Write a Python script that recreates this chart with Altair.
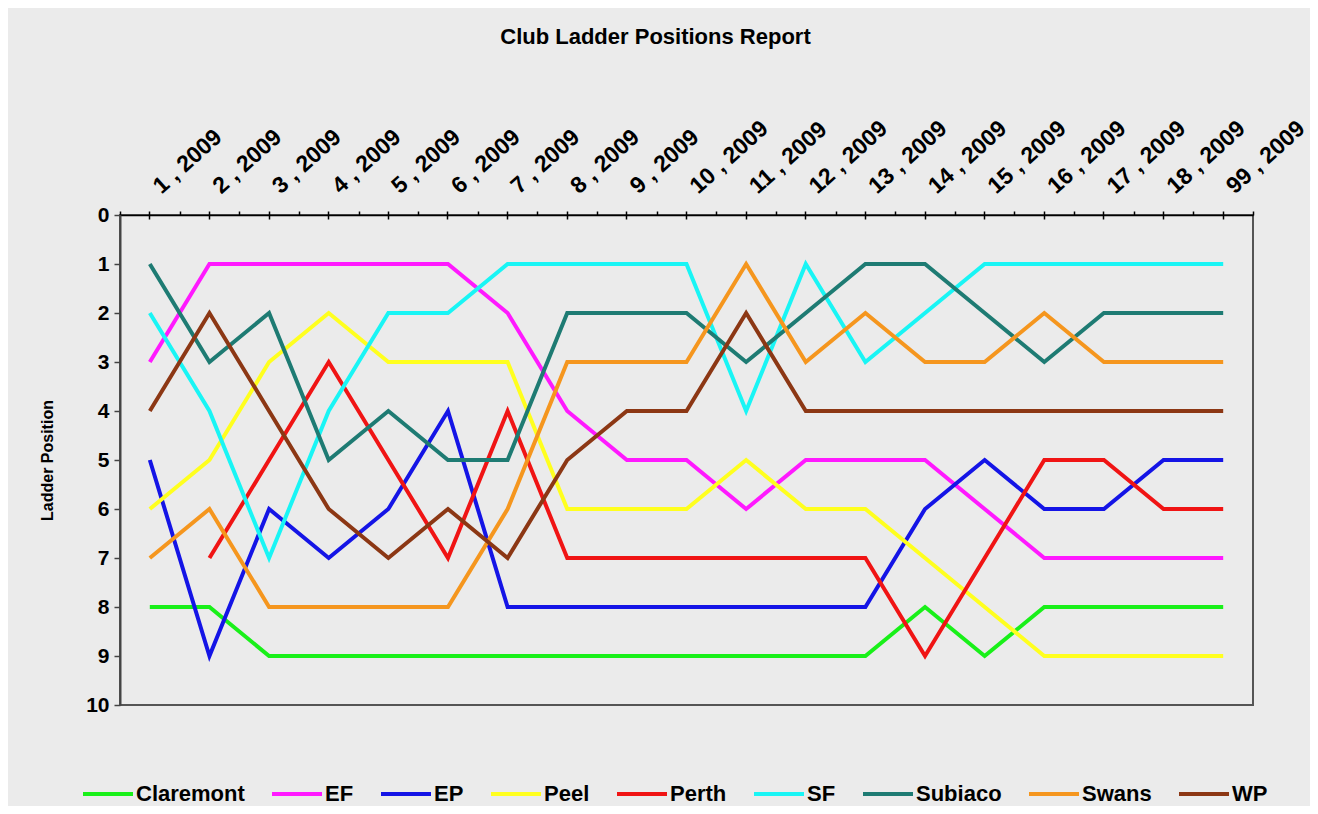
import altair as alt
import pandas as pd

rounds = ["1 , 2009", "2 , 2009", "3 , 2009", "4 , 2009", "5 , 2009", "6 , 2009",
          "7 , 2009", "8 , 2009", "9 , 2009", "10 , 2009", "11 , 2009", "12 , 2009",
          "13 , 2009", "14 , 2009", "15 , 2009", "16 , 2009", "17 , 2009", "18 , 2009",
          "99 , 2009"]

clubs = ["Claremont", "EF", "EP", "Peel", "Perth", "SF", "Subiaco", "Swans", "WP"]
colors = ["#19F019", "#FF19FF", "#1414E6", "#FFFF1E", "#F01414", "#19F5F5", "#1E7B73", "#F5961E", "#8C3714"]

claremont = [8, 8, 9, 9, 9, 9, 9, 9, 9, 9, 9, 9, 9, 8, 9, 8, 8, 8, 8]
ef        = [3, 1, 1, 1, 1, 1, 2, 4, 5, 5, 6, 5, 5, 5, 6, 7, 7, 7, 7]
ep        = [5, 9, 6, 7, 6, 4, 8, 8, 8, 8, 8, 8, 8, 6, 5, 6, 6, 5, 5]
peel      = [6, 5, 3, 2, 3, 3, 3, 6, 6, 6, 5, 6, 6, 7, 8, 9, 9, 9, 9]
perth     = [None, 7, 5, 3, 5, 7, 4, 7, 7, 7, 7, 7, 7, 9, 7, 5, 5, 6, 6]
sf        = [2, 4, 7, 4, 2, 2, 1, 1, 1, 1, 4, 1, 3, 2, 1, 1, 1, 1, 1]
subiaco   = [1, 3, 2, 5, 4, 5, 5, 2, 2, 2, 3, 2, 1, 1, 2, 3, 2, 2, 2]
swans     = [7, 6, 8, 8, 8, 8, 6, 3, 3, 3, 1, 3, 2, 3, 3, 2, 3, 3, 3]
wp        = [4, 2, 4, 6, 7, 6, 7, 5, 4, 4, 2, 4, 4, 4, 4, 4, 4, 4, 4]

series = [claremont, ef, ep, peel, perth, sf, subiaco, swans, wp]
rows = []
for club, vals in zip(clubs, series):
    for r, v in zip(rounds, vals):
        rows.append({"club": club, "round": r, "pos": v})
df = pd.DataFrame(rows)

FONT = "Liberation Sans"

xscale = alt.Scale(type="band", domain=rounds, paddingInner=0, paddingOuter=0)
yscale = alt.Scale(domain=[0, 10], reverse=True, nice=False, zero=False)

yaxis = alt.Axis(values=list(range(11)), orient="left", grid=False,
                 domainColor="#444444", domainWidth=2, tickColor="#444444", tickWidth=1.5,
                 tickSize=6, labelFont=FONT, labelFontWeight="bold", labelFontSize=21,
                 labelColor="#000000", labelPadding=5,
                 title="Ladder Position", titleFont=FONT, titleFontWeight="bold",
                 titleFontSize=16, titleColor="#000000", titlePadding=30)

major_axis = alt.Axis(orient="top", offset=-4, domain=False, ticks=True, tickSize=8,
                      tickColor="#000000", tickWidth=1.5, grid=False,
                      labelAngle=318, labelAlign="left", labelBaseline="middle",
                      labelFont=FONT, labelFontWeight="bold", labelFontSize=23,
                      labelColor="#000000", labelPadding=22, labelOffset=7,
                      labelOverlap=False, title=None)

minor_axis = alt.Axis(orient="top", offset=0, domain=True, domainColor="#000000",
                      domainWidth=1.5, ticks=True, tickBand="extent", tickSize=4,
                      tickColor="#000000", tickWidth=1.5, labels=False, grid=False,
                      title=None)

lines = alt.Chart(df).mark_line(strokeWidth=4).encode(
    x=alt.X("round:N", scale=xscale, axis=major_axis, bandPosition=0.5, sort=rounds),
    y=alt.Y("pos:Q", scale=yscale, axis=yaxis),
    color=alt.Color("club:N", scale=alt.Scale(domain=clubs, range=colors),
                    legend=alt.Legend(orient="none", legendX=-39, legendY=552,
                                      direction="horizontal", columns=9,
                                      symbolType="stroke", symbolSize=2500,
                                      symbolStrokeWidth=4, labelFont=FONT,
                                      labelFontWeight="bold", labelFontSize=22,
                                      labelColor="#000000", labelOffset=1,
                                      columnPadding=19, padding=0, title=None)),
)

ghost = alt.Chart(df).mark_point(opacity=0).encode(
    x=alt.X("round:N", scale=xscale, axis=minor_axis, bandPosition=0.5, sort=rounds),
)

chart = alt.layer(lines, ghost).resolve_axis(x="independent").properties(
    width=1133, height=490,
    title=alt.TitleParams("Club Ladder Positions Report", font=FONT, fontSize=22,
                          fontWeight="bold", color="#000000", anchor="middle",
                          offset=68, dx=-31),
    autosize=alt.AutoSizeParams(type="none"),
    padding={"left": 112, "top": 207, "right": 57, "bottom": 101},
    background="#EBEBEB",
).configure_view(stroke="#555555", strokeWidth=2, fill="#EBEBEB")

chart.save("out.html", embed_options={"renderer": "svg", "actions": False})
